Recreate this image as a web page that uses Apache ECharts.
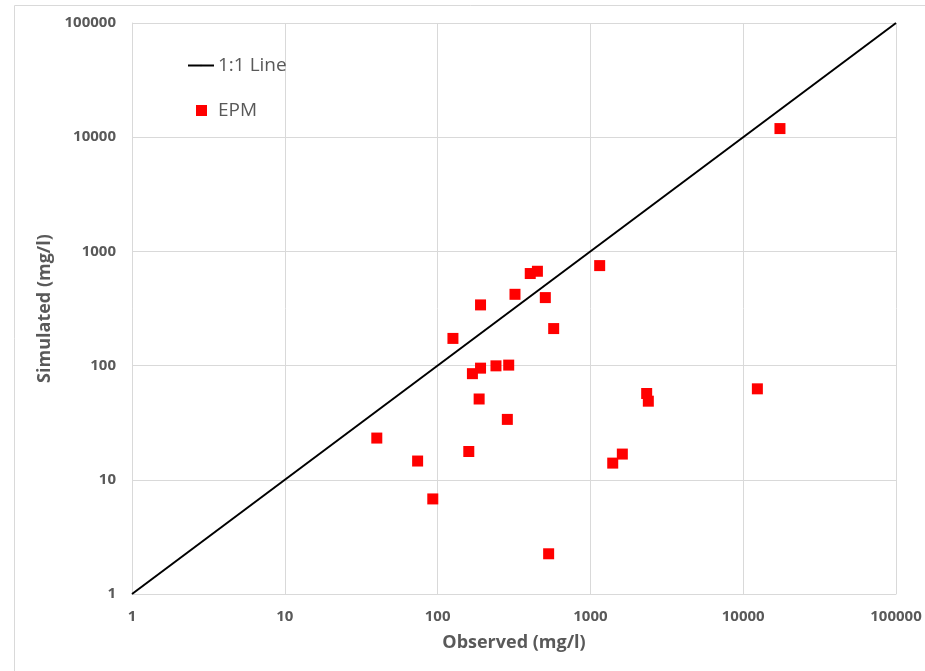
<!DOCTYPE html>
<html>
<head>
<meta charset="utf-8">
<script src="https://cdn.jsdelivr.net/npm/echarts@6/dist/echarts.min.js"></script>
<style>
  html, body { margin: 0; padding: 0; background: #fff; }
  #chart { width: 925px; height: 671px; }
</style>
</head>
<body>
<div id="chart"></div>
<script>
// observed vs simulated concentrations (mg/l)
const observed = [40, 74, 93, 126, 160, 169, 187, 191, 191, 241, 286, 292, 321, 404, 450, 507, 533, 575, 1150, 1400, 1618, 2335, 2394, 12380, 17400]
const simulated = [23.2, 14.6, 6.8, 173, 17.7, 85, 51, 95, 340, 99.5, 33.8, 101, 421, 640, 670, 394, 2.25, 211, 751, 14, 16.8, 57, 48.8, 62.6, 11900]
const oneToOne = [1, 100000]
const axisTicks = [1, 10, 100, 1000, 10000, 100000]

const epmData = observed.map((v, i) => [v, simulated[i]])
const lineData = oneToOne.map(v => [v, v])

const grey = '#595959'
const gridColor = '#d9d9d9'
const font = '"Open Sans", "Noto Sans", sans-serif'

const fmt = v => String(Math.round(v))

const axisBase = {
  type: 'log',
  logBase: 10,
  min: axisTicks[0],
  max: axisTicks[axisTicks.length - 1],
  nameLocation: 'middle',
  nameTextStyle: { color: grey, fontSize: 18, fontWeight: 'bold', fontFamily: font },
  axisLine: { show: true, lineStyle: { color: gridColor, width: 1 } },
  axisTick: { show: false },
  splitLine: { show: true, lineStyle: { color: gridColor, width: 1 } },
  minorTick: { show: false },
  axisLabel: {
    color: grey,
    fontSize: 15,
    fontWeight: 'bold',
    fontFamily: font,
    formatter: fmt
  }
}

const chart = echarts.init(document.getElementById('chart'))

chart.setOption({
  animation: false,
  grid: { left: 132, top: 23, width: 764, height: 571, containLabel: false },
  graphic: [{
    type: 'rect',
    shape: { x: 14.5, y: 5.5, width: 1000, height: 1000 },
    style: { fill: 'none', stroke: gridColor, lineWidth: 1 },
    silent: true,
    z: -1
  }],
  legend: [
    {
      data: ['1:1 Line'],
      left: 187,
      top: 56,
      padding: 0,
      itemWidth: 26,
      itemHeight: 2,
      textStyle: { color: grey, fontSize: 19, fontFamily: font, padding: [0, 0, 0, -1] }
    },
    {
      data: [{ name: 'EPM', icon: 'rect' }],
      left: 196,
      top: 101,
      padding: 0,
      itemWidth: 11,
      itemHeight: 11,
      textStyle: { color: grey, fontSize: 19, fontFamily: font, padding: [0, 0, 0, 6] }
    }
  ],
  xAxis: Object.assign({}, axisBase, {
    name: 'Observed (mg/l)',
    nameGap: 40,
    axisLabel: Object.assign({}, axisBase.axisLabel, { margin: 15 })
  }),
  yAxis: Object.assign({}, axisBase, {
    name: 'Simulated (mg/l)',
    nameGap: 74,
    axisLabel: Object.assign({}, axisBase.axisLabel, { margin: 16 })
  }),
  series: [
    {
      name: '1:1 Line',
      type: 'line',
      data: lineData,
      symbol: 'none',
      lineStyle: { color: '#000', width: 2 },
      itemStyle: { color: '#000' },
      z: 2
    },
    {
      name: 'EPM',
      type: 'scatter',
      data: epmData,
      symbol: 'rect',
      symbolSize: 11,
      itemStyle: { color: '#ff0000', opacity: 1 },
      z: 3
    }
  ]
})
</script>
</body>
</html>
